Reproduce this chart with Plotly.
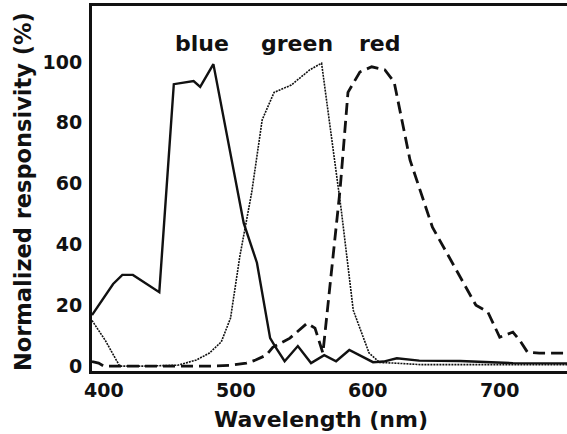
import plotly.graph_objects as go

# Wavelength (nm) and normalized responsivity (%)
blue_wl = [391, 399, 407, 414, 422, 442, 453, 468, 473, 483, 506, 516, 526, 530,
           537, 547, 557, 567, 576, 586, 604, 612, 622, 639, 670, 710, 760]
blue_val = [16.8, 21.7, 27, 30, 30, 24.3, 92.7, 93.7, 91.8, 99.3, 47, 34, 9.2, 6.3,
            1.6, 6.6, 1, 3.6, 1.6, 5.3, 1.3, 1.5, 2.6, 1.8, 1.7, 1.0, 0.9]

green_wl = [391, 401, 412, 430, 456, 470, 480, 489, 496, 503, 512, 520, 529, 542, 556,
            565, 580, 589, 601, 609, 620, 640, 680, 760]
green_val = [15, 8.5, 0, 0, 0.3, 2, 4.3, 8, 15.8, 36, 57, 81, 90, 92.4, 97.4,
             99.6, 51, 18.4, 4.3, 1.2, 1, 0.5, 0.5, 0.5]

red_wl = [391, 396, 400, 480, 496, 508, 515, 523, 528, 541, 554, 560, 566, 579, 585,
          594, 603, 613, 620, 632, 649, 670, 682, 691, 700, 710, 715, 721, 730, 760]
red_val = [1.5, 1, 0, 0, 0.3, 1, 2, 3.6, 6.2, 9.2, 14.1, 12.5, 4.3, 58, 90,
           96.7, 98.4, 97.4, 93.4, 67.8, 45.7, 29.3, 20, 17.8, 9.5, 11.2, 8.6, 4.6, 4.3, 4.3]

labels = ["blue", "green", "red"]
label_wl = [474, 546, 609]
label_val = [106, 106, 106]

x_ticks = [400, 500, 600, 700]
y_ticks = [0, 20, 40, 60, 80, 100]

x_title = "Wavelength (nm)"
y_title = "Normalized responsivity (%)"

FONT = "DejaVu Sans"
INK = "#111111"

fig = go.Figure()
fig.add_trace(go.Scatter(x=blue_wl, y=blue_val, mode="lines", name="blue",
                         line=dict(color=INK, width=2.4)))
fig.add_trace(go.Scatter(x=green_wl, y=green_val, mode="lines", name="green",
                         line=dict(color=INK, width=1.6, dash="2px,1px")))
fig.add_trace(go.Scatter(x=red_wl, y=red_val, mode="lines", name="red",
                         line=dict(color=INK, width=2.8, dash="12px,6px")))

for t, xv, yv in zip(labels, label_wl, label_val):
    fig.add_annotation(x=xv, y=yv, text=t, showarrow=False, xanchor="center", yanchor="middle",
                       font=dict(family=FONT, size=22, color=INK, weight="bold"))

# axis titles placed as annotations for exact positioning
fig.add_annotation(xref="paper", yref="paper", x=0.483, y=-0.134, text=x_title,
                   showarrow=False, xanchor="center", yanchor="middle",
                   font=dict(family=FONT, size=22, color=INK, weight="bold"))
fig.add_annotation(xref="paper", yref="paper", x=-0.1453, y=0.493, text=y_title,
                   showarrow=False, xanchor="center", yanchor="middle", textangle=-90,
                   font=dict(family=FONT, size=22.5, color=INK, weight="bold"))

fig.update_layout(
    width=567, height=434,
    margin=dict(l=92, r=0, t=6, b=63),
    paper_bgcolor="white", plot_bgcolor="white",
    showlegend=False,
    font=dict(family=FONT, color=INK),
)
fig.update_xaxes(
    range=[391, 751], tickvals=x_ticks, showgrid=False, zeroline=False,
    showline=True, linecolor=INK, linewidth=3, mirror=True, ticks="",
    tickfont=dict(family=FONT, size=19, color=INK, weight="bold"),
)
fig.update_yaxes(
    range=[-1.6, 118.4], tickvals=y_ticks, showgrid=False, zeroline=False,
    showline=True, linecolor=INK, linewidth=3, mirror=False, ticks="",
    ticklabelstandoff=3,
    tickfont=dict(family=FONT, size=19, color=INK, weight="bold"),
)

fig.write_html("out.html")
